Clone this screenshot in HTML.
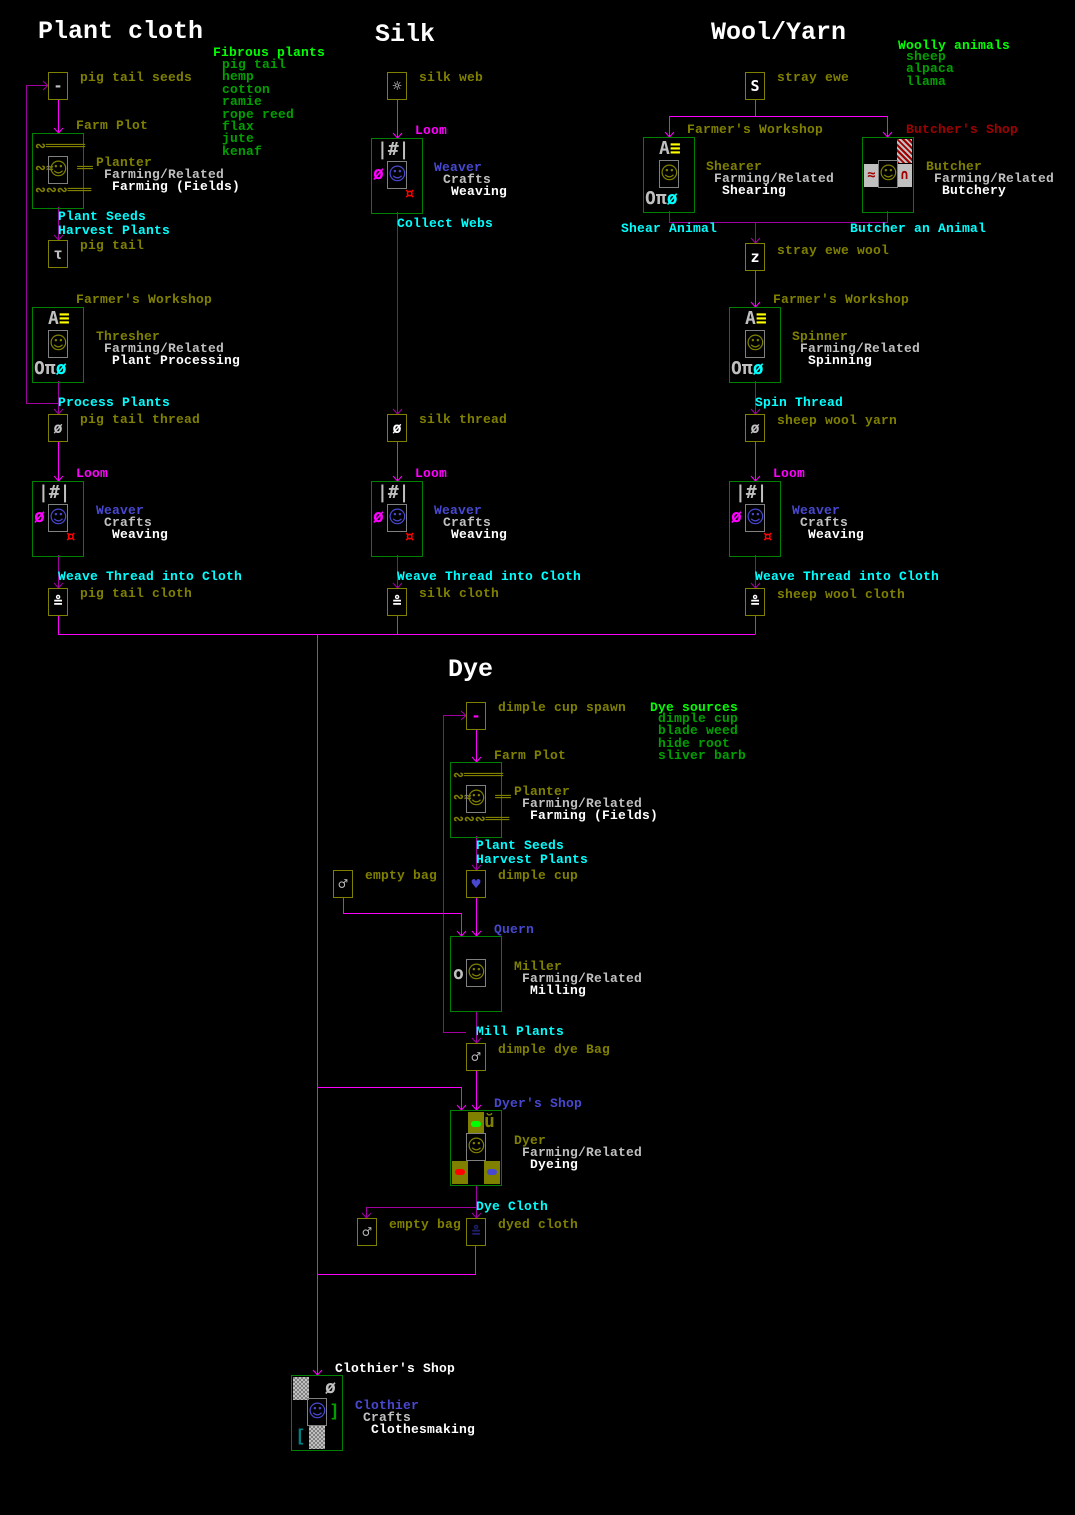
<!DOCTYPE html>
<html><head><meta charset="utf-8"><style>
body{margin:0;background:#000;width:1075px;height:1515px;position:relative;overflow:hidden}
.t{position:absolute;white-space:pre;font:bold 13px/14px "Liberation Mono","DejaVu Sans Mono",monospace;letter-spacing:0.2px}
.h{position:absolute;white-space:pre;font:bold 25px/28px "Liberation Mono","DejaVu Sans Mono",monospace;color:#fff}
.b{position:absolute;border:1px solid #808000;width:18px;height:26px;box-sizing:content-box;text-align:center;font:bold 15px/26px "DejaVu Sans Mono",monospace;color:#c0c0c0}
.w{position:absolute;border:1px solid #008000;width:50px;height:74px}
.f{position:absolute;left:15px;top:22px;width:18px;height:26px;border:1px solid #808080;color:#808000;text-align:center;font:bold 18px/26px "DejaVu Sans",sans-serif}
.g{position:absolute;font:bold 18px/18px "DejaVu Sans Mono",monospace;white-space:pre}
.ol{color:#808000}.cy{color:#00ffff}.gr{color:#c0c0c0}.wh{color:#fff}.bg{color:#00ff00}.dg{color:#00a000}.bl{color:#4848d0}.mg{color:#ff00ff}.rd{color:#a00000}
</style></head><body>
<svg width="1075" height="1515" style="position:absolute;left:0;top:0" fill="none" stroke-width="1">
<g stroke="#ff00ff">
<path d="M58.5 100V133M58.5 442V481M58.5 616V634.5H755.5M397.5 100V138M397.5 442V481M397.5 616V634M755.5 100V116.5M669.5 137V116.5H887.5V137M755.5 271V307M755.5 442V481M755.5 616V634M317.5 634V1375M317.5 1087.5H461.5V1110M476.5 1071V1110M475.5 1246V1274.5H317.5M476.5 730V762M343.5 898V913.5H461.5V936M476.5 898V936"/>
</g>
<g stroke="#a000a0">
<path d="M58.5 207V240M58.5 381V414M58.5 403.5H26.5V85.5H48M58.5 555V588M397.5 212V414M397.5 555V588M669.5 211V222.5H887.5V211M755.5 222V243M755.5 381V414M755.5 555V588M476.5 836V870M476.5 1012V1043M466 1032.5H443.5V715.5H466M476.5 1185V1218M476.5 1207.5H366.5V1218"/>
</g>
<g stroke="#ff00ff" id="ar">
<path d="M54 128l4.5 5 4.5-5M54 476l4.5 5 4.5-5M393 133l4.5 5 4.5-5M393 476l4.5 5 4.5-5M665 132l4.5 5 4.5-5M883 132l4.5 5 4.5-5M751 302l4.5 5 4.5-5M751 476l4.5 5 4.5-5M313 1370l4.5 5 4.5-5M457 1105l4.5 5 4.5-5M472 1105l4.5 5 4.5-5M472 757l4.5 5 4.5-5M457 931l4.5 5 4.5-5M472 931l4.5 5 4.5-5"/>
</g>
<g stroke="#a000a0">
<path d="M54 235l4.5 5 4.5-5M54 409l4.5 5 4.5-5M43 81l5 4.5-5 4.5M54 583l4.5 5 4.5-5M393 409l4.5 5 4.5-5M393 583l4.5 5 4.5-5M751 238l4.5 5 4.5-5M751 409l4.5 5 4.5-5M751 583l4.5 5 4.5-5M472 865l4.5 5 4.5-5M472 1038l4.5 5 4.5-5M461 711l5 4.5-5 4.5M472 1213l4.5 5 4.5-5M362 1213l4.5 5 4.5-5"/>
</g>
</svg>

<!-- titles -->
<div class="h" style="left:38px;top:18px">Plant cloth</div>
<div class="h" style="left:375px;top:21px">Silk</div>
<div class="h" style="left:711px;top:19px">Wool/Yarn</div>
<div class="h" style="left:448px;top:656px">Dye</div>

<!-- legend -->
<div class="t bg" style="left:213px;top:46px">Fibrous plants</div>
<div class="t dg" style="left:222px;top:59px;line-height:12.4px">pig tail
hemp
cotton
ramie
rope reed
flax
jute
kenaf</div>
<div class="t bg" style="left:898px;top:39px">Woolly animals</div>
<div class="t dg" style="left:906px;top:51px;line-height:12.4px">sheep
alpaca
llama</div>
<div class="t bg" style="left:650px;top:701px">Dye sources</div>
<div class="t dg" style="left:658px;top:713px;line-height:12.4px">dimple cup
blade weed
hide root
sliver barb</div>

<!-- COLUMN 1 -->
<div class="b" style="left:48px;top:72px">-</div>
<div class="t ol" style="left:80px;top:71px">pig tail seeds</div>
<div class="t ol" style="left:76px;top:119px">Farm Plot</div>
<div class="w" style="left:32px;top:133px"><div class="g ol" style="left:2px;top:2px;font-size:13px;line-height:22px">∾═════
∾≈   ══
∾∾∾═══</div><div class="f">☺</div></div>
<div class="t ol" style="left:96px;top:156px">Planter</div>
<div class="t gr" style="left:104px;top:168px">Farming/Related</div>
<div class="t wh" style="left:112px;top:180px">Farming (Fields)</div>
<div class="t cy" style="left:58px;top:210px">Plant Seeds
Harvest Plants</div>
<div class="b" style="left:48px;top:240px">τ</div>
<div class="t ol" style="left:80px;top:239px">pig tail</div>
<div class="t ol" style="left:76px;top:293px">Farmer's Workshop</div>
<div class="w" style="left:32px;top:307px"><div class="g gr" style="left:15px;top:2px">A<span style="color:#ff0">≡</span></div><div class="f">☺</div><div class="g gr" style="left:1px;top:52px">Oπ<span class="cy">ø</span></div></div>
<div class="t ol" style="left:96px;top:330px">Thresher</div>
<div class="t gr" style="left:104px;top:342px">Farming/Related</div>
<div class="t wh" style="left:112px;top:354px">Plant Processing</div>
<div class="t cy" style="left:58px;top:396px">Process Plants</div>
<div class="b" style="left:48px;top:414px">ø</div>
<div class="t ol" style="left:80px;top:413px">pig tail thread</div>
<div class="t mg" style="left:76px;top:467px">Loom</div>
<div class="w" style="left:32px;top:481px"><div class="g gr" style="left:5px;top:2px">|#|</div><div class="f bl" style="border-color:#808080;color:#4848d0">☺</div><div class="g mg" style="left:1px;top:26px">ø</div><div class="g" style="left:32px;top:46px;color:#f00">¤</div></div>
<div class="t bl" style="left:96px;top:504px">Weaver</div>
<div class="t gr" style="left:104px;top:516px">Crafts</div>
<div class="t wh" style="left:112px;top:528px">Weaving</div>
<div class="t cy" style="left:58px;top:570px">Weave Thread into Cloth</div>
<div class="b" style="left:48px;top:588px;color:#fff">≗</div>
<div class="t ol" style="left:80px;top:587px">pig tail cloth</div>

<!-- COLUMN 2 -->
<div class="b" style="left:387px;top:72px;color:#fff">☼</div>
<div class="t ol" style="left:419px;top:71px">silk web</div>
<div class="t mg" style="left:415px;top:124px">Loom</div>
<div class="w" style="left:371px;top:138px"><div class="g gr" style="left:5px;top:2px">|#|</div><div class="f" style="color:#4848d0">☺</div><div class="g mg" style="left:1px;top:26px">ø</div><div class="g" style="left:32px;top:46px;color:#f00">¤</div></div>
<div class="t bl" style="left:434px;top:161px">Weaver</div>
<div class="t gr" style="left:443px;top:173px">Crafts</div>
<div class="t wh" style="left:451px;top:185px">Weaving</div>
<div class="t cy" style="left:397px;top:217px">Collect Webs</div>
<div class="b" style="left:387px;top:414px;color:#fff">ø</div>
<div class="t ol" style="left:419px;top:413px">silk thread</div>
<div class="t mg" style="left:415px;top:467px">Loom</div>
<div class="w" style="left:371px;top:481px"><div class="g gr" style="left:5px;top:2px">|#|</div><div class="f" style="color:#4848d0">☺</div><div class="g mg" style="left:1px;top:26px">ø</div><div class="g" style="left:32px;top:46px;color:#f00">¤</div></div>
<div class="t bl" style="left:434px;top:504px">Weaver</div>
<div class="t gr" style="left:443px;top:516px">Crafts</div>
<div class="t wh" style="left:451px;top:528px">Weaving</div>
<div class="t cy" style="left:397px;top:570px">Weave Thread into Cloth</div>
<div class="b" style="left:387px;top:588px;color:#fff">≗</div>
<div class="t ol" style="left:419px;top:587px">silk cloth</div>

<!-- COLUMN 3 -->
<div class="b" style="left:745px;top:72px;color:#fff">S</div>
<div class="t ol" style="left:777px;top:71px">stray ewe</div>
<div class="t ol" style="left:687px;top:123px">Farmer's Workshop</div>
<div class="t rd" style="left:906px;top:123px">Butcher's Shop</div>
<div class="w" style="left:643px;top:137px"><div class="g gr" style="left:15px;top:2px">A<span style="color:#ff0">≡</span></div><div class="f">☺</div><div class="g gr" style="left:1px;top:52px">Oπ<span class="cy">ø</span></div></div>
<div class="t ol" style="left:706px;top:160px">Shearer</div>
<div class="t gr" style="left:714px;top:172px">Farming/Related</div>
<div class="t wh" style="left:722px;top:184px">Shearing</div>
<div class="w" style="left:862px;top:137px"><div style="position:absolute;left:34px;top:1px;width:15px;height:24px;background:repeating-linear-gradient(45deg,#a00000 0 2px,#c0c0c0 2px 4px)"></div><div style="position:absolute;left:1px;top:26px;width:15px;height:23px;background:#c0c0c0;color:#a00000;font:bold 14px/23px monospace;text-align:center">≈</div><div style="position:absolute;left:34px;top:26px;width:15px;height:23px;background:#c0c0c0;color:#a00000;font:bold 14px/23px monospace;text-align:center">∩</div><div class="f">☺</div></div>
<div class="t ol" style="left:926px;top:160px">Butcher</div>
<div class="t gr" style="left:934px;top:172px">Farming/Related</div>
<div class="t wh" style="left:942px;top:184px">Butchery</div>
<div class="t cy" style="left:621px;top:222px">Shear Animal</div>
<div class="t cy" style="left:850px;top:222px">Butcher an Animal</div>
<div class="b" style="left:745px;top:243px;color:#fff">z</div>
<div class="t ol" style="left:777px;top:244px">stray ewe wool</div>
<div class="t ol" style="left:773px;top:293px">Farmer's Workshop</div>
<div class="w" style="left:729px;top:307px"><div class="g gr" style="left:15px;top:2px">A<span style="color:#ff0">≡</span></div><div class="f">☺</div><div class="g gr" style="left:1px;top:52px">Oπ<span class="cy">ø</span></div></div>
<div class="t ol" style="left:792px;top:330px">Spinner</div>
<div class="t gr" style="left:800px;top:342px">Farming/Related</div>
<div class="t wh" style="left:808px;top:354px">Spinning</div>
<div class="t cy" style="left:755px;top:396px">Spin Thread</div>
<div class="b" style="left:745px;top:414px">ø</div>
<div class="t ol" style="left:777px;top:414px">sheep wool yarn</div>
<div class="t mg" style="left:773px;top:467px">Loom</div>
<div class="w" style="left:729px;top:481px"><div class="g gr" style="left:5px;top:2px">|#|</div><div class="f" style="color:#4848d0">☺</div><div class="g mg" style="left:1px;top:26px">ø</div><div class="g" style="left:32px;top:46px;color:#f00">¤</div></div>
<div class="t bl" style="left:792px;top:504px">Weaver</div>
<div class="t gr" style="left:800px;top:516px">Crafts</div>
<div class="t wh" style="left:808px;top:528px">Weaving</div>
<div class="t cy" style="left:755px;top:570px">Weave Thread into Cloth</div>
<div class="b" style="left:745px;top:588px;color:#fff">≗</div>
<div class="t ol" style="left:777px;top:588px">sheep wool cloth</div>

<!-- DYE -->
<div class="b" style="left:466px;top:702px;color:#ff00ff">-</div>
<div class="t ol" style="left:498px;top:701px">dimple cup spawn</div>
<div class="t ol" style="left:494px;top:749px">Farm Plot</div>
<div class="w" style="left:450px;top:762px"><div class="g ol" style="left:2px;top:2px;font-size:13px;line-height:22px">∾═════
∾≈   ══
∾∾∾═══</div><div class="f">☺</div></div>
<div class="t ol" style="left:514px;top:785px">Planter</div>
<div class="t gr" style="left:522px;top:797px">Farming/Related</div>
<div class="t wh" style="left:530px;top:809px">Farming (Fields)</div>
<div class="t cy" style="left:476px;top:839px">Plant Seeds
Harvest Plants</div>
<div class="b" style="left:333px;top:870px">♂</div>
<div class="t ol" style="left:365px;top:869px">empty bag</div>
<div class="b" style="left:466px;top:870px;color:#4848d0">♥</div>
<div class="t ol" style="left:498px;top:869px">dimple cup</div>
<div class="t bl" style="left:494px;top:923px">Quern</div>
<div class="w" style="left:450px;top:936px"><div class="g gr" style="left:2px;top:28px">o</div><div class="f">☺</div></div>
<div class="t ol" style="left:514px;top:960px">Miller</div>
<div class="t gr" style="left:522px;top:972px">Farming/Related</div>
<div class="t wh" style="left:530px;top:984px">Milling</div>
<div class="t cy" style="left:476px;top:1025px">Mill Plants</div>
<div class="b" style="left:466px;top:1043px">♂</div>
<div class="t ol" style="left:498px;top:1043px">dimple dye Bag</div>
<div class="t bl" style="left:494px;top:1097px">Dyer's Shop</div>
<div class="w" style="left:450px;top:1110px"><div style="position:absolute;left:17px;top:1px;width:16px;height:22px;background:#808000"></div><div style="position:absolute;left:20px;top:10px;width:10px;height:6px;background:#0f0;border-radius:3px"></div><div class="g ol" style="left:33px;top:2px">ŭ</div><div style="position:absolute;left:1px;top:50px;width:16px;height:23px;background:#808000"></div><div style="position:absolute;left:4px;top:58px;width:10px;height:6px;background:#f00;border-radius:3px"></div><div style="position:absolute;left:33px;top:50px;width:16px;height:23px;background:#808000"></div><div style="position:absolute;left:36px;top:58px;width:10px;height:6px;background:#4848d0;border-radius:3px"></div><div class="f">☺</div></div>
<div class="t ol" style="left:514px;top:1134px">Dyer</div>
<div class="t gr" style="left:522px;top:1146px">Farming/Related</div>
<div class="t wh" style="left:530px;top:1158px">Dyeing</div>
<div class="t cy" style="left:476px;top:1200px">Dye Cloth</div>
<div class="b" style="left:357px;top:1218px">♂</div>
<div class="t ol" style="left:389px;top:1218px">empty bag</div>
<div class="b" style="left:466px;top:1218px;color:#202070">≗</div>
<div class="t ol" style="left:498px;top:1218px">dyed cloth</div>

<!-- CLOTHIER -->
<div class="t wh" style="left:335px;top:1362px">Clothier's Shop</div>
<div class="w" style="left:291px;top:1375px"><div style="position:absolute;left:1px;top:1px;width:16px;height:23px;background:repeating-conic-gradient(#c0c0c0 0 25%,#808080 0 50%) 0 0/4px 4px"></div><div class="g gr" style="left:33px;top:3px">ø</div><div class="f" style="color:#4848d0">☺</div><div class="g" style="left:37px;top:27px;color:#00a000">]</div><div class="g" style="left:3px;top:52px;color:#008080">[</div><div style="position:absolute;left:17px;top:50px;width:16px;height:23px;background:repeating-conic-gradient(#c0c0c0 0 25%,#808080 0 50%) 0 0/4px 4px"></div></div>
<div class="t bl" style="left:355px;top:1399px">Clothier</div>
<div class="t gr" style="left:363px;top:1411px">Crafts</div>
<div class="t wh" style="left:371px;top:1423px">Clothesmaking</div>
</body></html>
